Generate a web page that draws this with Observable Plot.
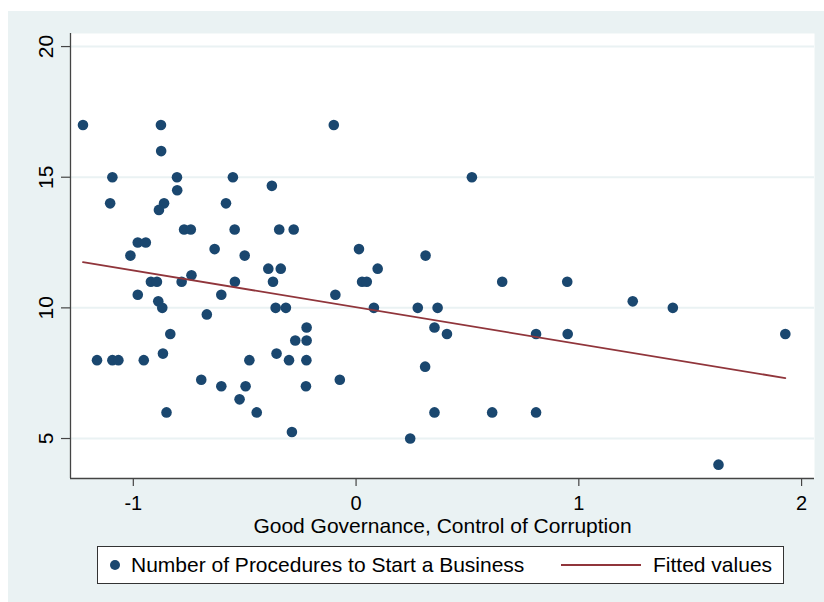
<!DOCTYPE html>
<html>
<head>
<meta charset="utf-8">
<script src="https://cdn.jsdelivr.net/npm/d3@7"></script>
<script src="https://cdn.jsdelivr.net/npm/@observablehq/plot@0.6"></script>
<style>
  html, body { margin: 0; padding: 0; background: #ffffff; }
  #page { position: relative; width: 824px; height: 602px; overflow: hidden; }
  #wrap { position: absolute; left: 8px; top: 11px; width: 816px; height: 591px; background: #eaf2f3; }
  #chart { position: absolute; left: 0; top: 0; }
  #legend {
    position: absolute; left: 89px; top: 535px; width: 687px; height: 38px;
    box-sizing: border-box; background: #ffffff; border: 1px solid #333333;
    font-family: "Liberation Sans", Arial, sans-serif; font-size: 21px; color: #000;
  }
  #legend .item { position: absolute; top: 0; height: 36px; line-height: 36px; white-space: nowrap; }
  #legend svg { position: absolute; top: 0; }
</style>
</head>
<body>
<div id="page">
  <div id="wrap">
    <div id="chart"></div>
    <div id="legend"></div>
  </div>
</div>
<script>
// Good Governance, Control of Corruption (x) and Number of Procedures to Start a Business (y)
const governance = [
  -1.226, -0.876, -0.875, -1.094, -0.804, -0.553, -0.378, -0.803, -1.104, -0.862,
  -0.885, -0.584, -0.772, -0.742, -0.545, -0.345, -0.280, -0.980, -0.944, -0.635,
  -1.013, -0.500, -0.394, -0.338, -0.739, -0.921, -0.894, -0.783, -0.544, -0.373,
  -0.980, -0.605,
  -0.888, -0.870, -0.361, -0.315, -0.670, -0.222, -0.834, -0.273, -0.222, -0.867,
  -0.357, -1.163, -1.094, -1.067, -0.953, -0.479, -0.301, -0.223, -0.695, -0.605,
  -0.496, -0.225, -0.523, -0.851, -0.446, -0.288,
  -0.100, 0.520, 0.013, 0.312, 0.097, 0.027, 0.048, 0.656, -0.093,
  0.080, 0.277, 0.366, 0.352, 0.408, 0.808, 0.310, -0.073, 0.352, 0.611, 0.808, 0.243,
  0.948, 1.242, 1.422, 0.950, 1.927, 1.627
];
const procedures = [
  17, 17, 16, 15, 15, 15, 14.67, 14.5, 14, 14,
  13.75, 14, 13, 13, 13, 13, 13, 12.5, 12.5, 12.25,
  12, 12, 11.5, 11.5, 11.25, 11, 11, 11, 11, 11,
  10.5, 10.5,
  10.25, 10, 10, 10, 9.75, 9.25, 9, 8.75, 8.75, 8.25,
  8.25, 8, 8, 8, 8, 8, 8, 8, 7.25, 7,
  7, 7, 6.5, 6, 6, 5.25,
  17, 15, 12.25, 12, 11.5, 11, 11, 11, 10.5,
  10, 10, 10, 9.25, 9, 9, 7.75, 7.25, 6, 6, 6, 5,
  11, 10.25, 10, 9, 9, 4
];
const xTicks = [-1, 0, 1, 2];
const yTicks = [5, 10, 15, 20];
const xTitle = "Good Governance, Control of Corruption";
const seriesLabel = "Number of Procedures to Start a Business";
const fitLabel = "Fitted values";

const xDomain = [-1.282, 2.058];
const yDomain = [3.47, 20.5];

const data = governance.map((g, i) => ({ g, p: procedures[i] }));

const navy = "#1a476f";
const maroon = "#90353b";
const bg = "#eaf2f3";
const axisColor = "#444444";
const font = "Liberation Sans, Arial, sans-serif";

const chart = Plot.plot({
  width: 816,
  height: 530,
  marginLeft: 62,
  marginRight: 10,
  marginTop: 22,
  marginBottom: 63,
  style: { background: "transparent", fontFamily: font, fontSize: "21px", color: "#000" },
  x: { domain: xDomain },
  y: { domain: yDomain },
  marks: [
    Plot.frame({ fill: "#ffffff", stroke: null }),
    Plot.gridY(yTicks, { stroke: bg, strokeOpacity: 1, strokeWidth: 2 }),
    Plot.axisX(xTicks, {
      tickSize: 8, tickPadding: 9, stroke: axisColor, strokeWidth: 1.2,
      tickFormat: d => String(d), fontSize: 20, fill: "#000", label: null
    }),
    Plot.axisY(yTicks, {
      tickSize: 9, tickPadding: 9, tickRotate: -90, stroke: axisColor, strokeWidth: 1.2,
      tickFormat: d => String(d), fontSize: 21, fill: "#000", label: null
    }),
    Plot.text([xTitle], {
      frameAnchor: "bottom", dy: 48, text: d => d, fontSize: 21, fill: "#000", lineAnchor: "middle"
    }),
    Plot.ruleX([xDomain[0]], { stroke: axisColor, strokeWidth: 1.3 }),
    Plot.ruleY([yDomain[0]], { stroke: axisColor, strokeWidth: 1.3 }),
    Plot.dot(data, { x: "g", y: "p", r: 5.3, fill: navy, stroke: null }),
    Plot.linearRegressionY(data, { x: "g", y: "p", stroke: maroon, strokeWidth: 1.8, ci: 0 })
  ]
});
document.getElementById("chart").appendChild(chart);

// Legend (below the plot)
const legend = document.getElementById("legend");
legend.innerHTML = `
  <svg width="30" height="36" style="left:8px"><circle cx="9" cy="18" r="5" fill="${navy}"/></svg>
  <div class="item" style="left:33px">${seriesLabel}</div>
  <svg width="82" height="36" style="left:463px"><line x1="0" x2="80" y1="18" y2="18" stroke="${maroon}" stroke-width="1.8"/></svg>
  <div class="item" style="left:555px">${fitLabel}</div>
`;
</script>
</body>
</html>
